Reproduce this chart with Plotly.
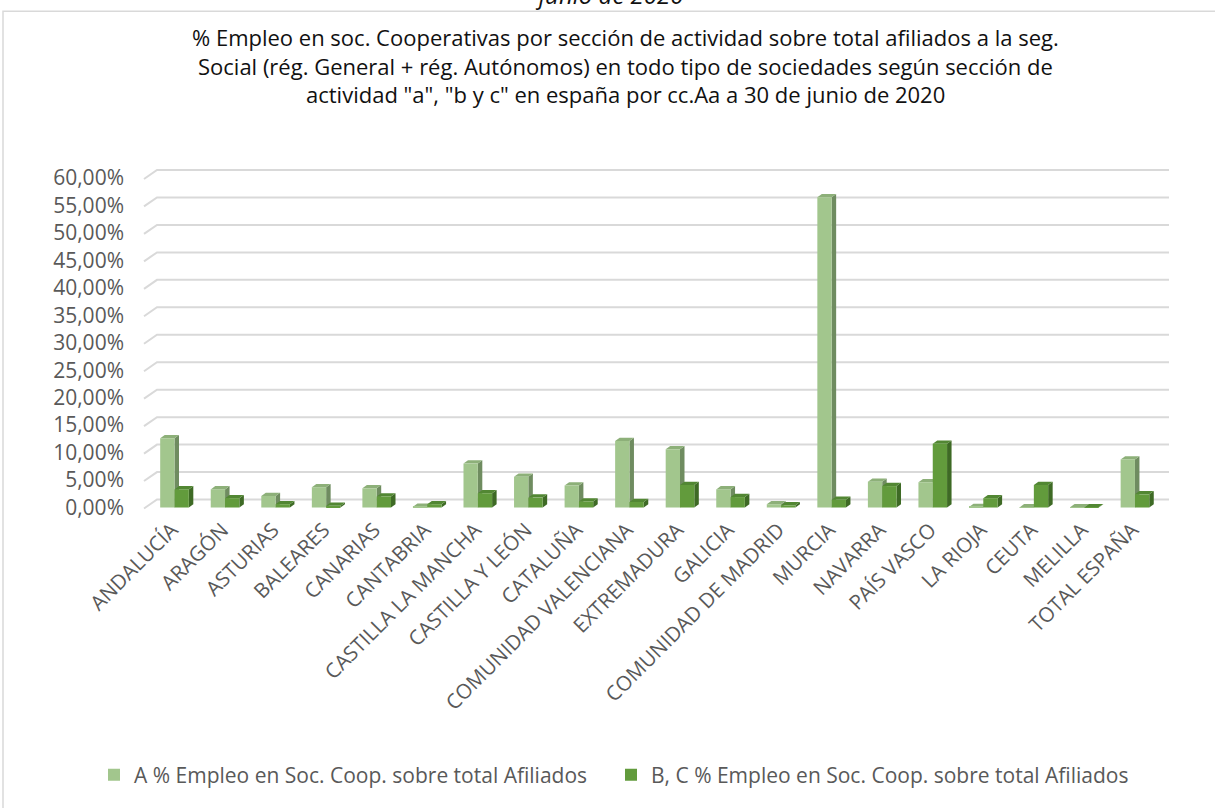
import plotly.graph_objects as go

# Comunidades autónomas
categorias = [
    "ANDALUCÍA", "ARAGÓN", "ASTURIAS", "BALEARES", "CANARIAS", "CANTABRIA",
    "CASTILLA LA MANCHA", "CASTILLA Y LEÓN", "CATALUÑA", "COMUNIDAD VALENCIANA",
    "EXTREMADURA", "GALICIA", "COMUNIDAD DE MADRID", "MURCIA", "NAVARRA",
    "PAÍS VASCO", "LA RIOJA", "CEUTA", "MELILLA", "TOTAL ESPAÑA",
]

# % de empleo en sociedades cooperativas, sección A
serie_a = [12.6, 3.3, 2.1, 3.7, 3.5, 0.15, 8.0, 5.6, 4.0, 12.1,
           10.6, 3.3, 0.6, 56.5, 4.7, 4.6, 0.1, 0.02, 0.05, 8.75]
# % de empleo en sociedades cooperativas, secciones B y C
serie_bc = [3.3, 1.7, 0.6, 0.3, 2.0, 0.6, 2.6, 1.8, 1.1, 1.0,
            4.1, 1.9, 0.4, 1.4, 3.9, 11.6, 1.7, 4.1, 0.05, 2.4]

nombre_a = "A % Empleo en Soc. Coop. sobre total Afiliados"
nombre_bc = "B, C % Empleo en Soc. Coop. sobre total Afiliados"

ticks_y = list(range(0, 61, 5))
etiquetas_y = [f"{v:.2f}".replace(".", ",") + "%" for v in ticks_y]

titulo = [
    "% Empleo en soc. Cooperativas por sección de actividad sobre total afiliados a la seg.",
    "Social (rég. General + rég. Autónomos) en todo tipo de sociedades según sección de",
    "actividad \"a\", \"b y c\" en españa por cc.Aa a 30 de junio de 2020",
]

# ---- geometry of the drawing area (pixels) ----
W, H = 1215, 808
X0_PX = 174.5          # pixel of category 0
PX_PER_CAT = 50.55
Y0_PX = 508.0          # pixel of 0 %
PX_PER_PCT = 5.5
X_RANGE = [(137 - X0_PX) / PX_PER_CAT, (1175 - X0_PX) / PX_PER_CAT]
Y_RANGE = [-1.0, 62.0]
M_L = X0_PX + X_RANGE[0] * PX_PER_CAT
M_R = W - (X0_PX + X_RANGE[1] * PX_PER_CAT)
M_T = Y0_PX - Y_RANGE[1] * PX_PER_PCT
M_B = H - (Y0_PX - Y_RANGE[0] * PX_PER_PCT)


def dx(px):
    return px / PX_PER_CAT


def dy(px):
    return px / PX_PER_PCT


def xdata(px):
    return (px - X0_PX) / PX_PER_CAT


def paper_x(px):
    return (px - M_L) / (W - M_L - M_R)


def paper_y(py):
    return (H - M_B - py) / (H - M_T - M_B)


BAR_W = 0.283
OFF_A, OFF_BC = -BAR_W, 0.0
DEPTH_X, DEPTH_Y = dx(4.5), dy(3.3)

col_a, col_a_side, col_a_top = "#A2C68D", "#6F8C60", "#8DB079"
col_b, col_b_side, col_b_top = "#629B3C", "#3E6A25", "#528733"

shapes = []

# back-wall gridlines with a short perspective leg on the left
for v in ticks_y:
    path = (f"M {xdata(144)},{v - dy(1)} L {xdata(157)},{v + dy(8)} "
            f"L {xdata(1169)},{v + dy(8)}")
    shapes.append(dict(type="path", path=path, xref="x", yref="y",
                       line=dict(color="#D9D9D9", width=2), layer="below"))


def faces(i, off, val, side_col, top_col):
    x0 = i + off
    x1 = x0 + BAR_W
    side = (f"M {x1},0 L {x1 + DEPTH_X},{DEPTH_Y} L {x1 + DEPTH_X},{val + DEPTH_Y} "
            f"L {x1},{val} Z")
    top = (f"M {x0},{val} L {x0 + DEPTH_X},{val + DEPTH_Y} "
           f"L {x1 + DEPTH_X},{val + DEPTH_Y} L {x1},{val} Z")
    out = []
    for p, c in ((side, side_col), (top, top_col)):
        out.append(dict(type="path", path=p, xref="x", yref="y",
                        fillcolor=c, line=dict(width=0), layer="between"))
    return out


for i, (va, vb) in enumerate(zip(serie_a, serie_bc)):
    shapes += faces(i, OFF_A, va, col_a_side, col_a_top)
    shapes += faces(i, OFF_BC, vb, col_b_side, col_b_top)

# outer chart frame
shapes.append(dict(type="rect", xref="paper", yref="paper",
                   x0=paper_x(3), x1=paper_x(1240), y0=paper_y(830), y1=paper_y(11),
                   line=dict(color="#D9D9D9", width=1.5), fillcolor="rgba(0,0,0,0)",
                   layer="below"))

xs = list(range(len(categorias)))

fig = go.Figure()
fig.add_trace(go.Bar(x=xs, y=serie_a, name=nombre_a, width=BAR_W, offset=OFF_A,
                     marker=dict(color=col_a, line=dict(width=0)),
                     legend="legend", showlegend=True))
fig.add_trace(go.Bar(x=xs, y=serie_bc, name=nombre_bc, width=BAR_W, offset=OFF_BC,
                     marker=dict(color=col_b, line=dict(width=0)),
                     legend="legend2", showlegend=True))

font_family = "Open Sans"
grey = "#595959"
dark = "#111111"

annotations = [dict(
    text="<i>junio de 2020</i>", xref="paper", yref="paper",
    x=paper_x(609), y=paper_y(-6), xanchor="center", yanchor="middle",
    showarrow=False, font=dict(family=font_family, size=24, color=dark),
)]
for linea, ypx in zip(titulo, (37, 65.5, 94)):
    annotations.append(dict(
        text=linea, xref="paper", yref="paper",
        x=paper_x(625), y=paper_y(ypx), xanchor="center", yanchor="middle",
        showarrow=False, font=dict(family=font_family, size=22, color=dark),
    ))


def leyenda(x_px):
    return dict(
        orientation="h", xref="container", yref="container",
        x=x_px / W, xanchor="left", y=(H - 775) / H, yanchor="middle",
        font=dict(family=font_family, size=21, color=grey),
        itemwidth=30, bgcolor="rgba(0,0,0,0)", visible=True,
    )


fig.update_layout(
    width=W, height=H,
    margin=dict(l=M_L, r=M_R, t=M_T, b=M_B, autoexpand=False),
    paper_bgcolor="white", plot_bgcolor="rgba(0,0,0,0)",
    barmode="overlay",
    showlegend=True,
    shapes=shapes,
    annotations=annotations,
    xaxis=dict(
        range=X_RANGE, tickmode="array", tickvals=[x - 0.05 for x in xs],
        ticktext=categorias,
        tickangle=-45, showgrid=False, zeroline=False, showline=False, ticks="",
        tickfont=dict(family=font_family, size=20.5, color=grey),
    ),
    yaxis=dict(
        range=Y_RANGE, tickmode="array", tickvals=ticks_y, ticktext=etiquetas_y,
        showgrid=False, zeroline=False,
        showline=False, ticks="", ticklabelstandoff=12,
        tickfont=dict(family=font_family, size=21, color=grey),
    ),
    legend=leyenda(94),
    legend2=leyenda(611),
)

fig.write_html("out.html")
